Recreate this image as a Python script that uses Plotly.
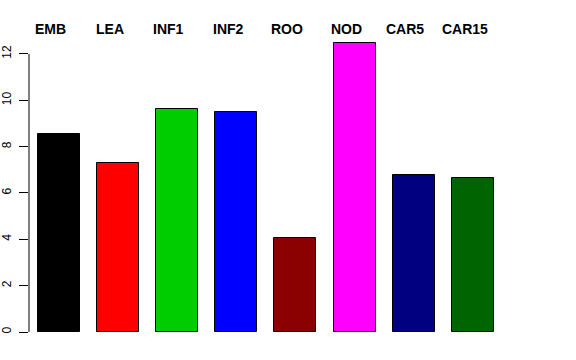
import plotly.graph_objects as go

categories = ["EMB", "LEA", "INF1", "INF2", "ROO", "NOD", "CAR5", "CAR15"]
values = [8.53, 7.30, 9.62, 9.49, 4.07, 12.48, 6.78, 6.65]
colors = ["#000000", "#FF0000", "#00CD00", "#0000FF", "#8B0000", "#FF00FF", "#000080", "#006400"]
y_ticks = [0, 2, 4, 6, 8, 10, 12]

positions = list(range(len(categories)))

fig = go.Figure()
fig.add_trace(go.Bar(
    x=positions, y=values, width=0.71,
    marker=dict(color=colors, line=dict(color="#000000", width=1)),
    showlegend=False, hoverinfo="skip",
))

for p, c in zip(positions, categories):
    fig.add_annotation(x=p - 0.14, y=1, xref="x", yref="paper", yshift=11,
                       text="<b>%s</b>" % c, showarrow=False,
                       xanchor="center", yanchor="middle",
                       font=dict(family="Liberation Sans, Arial, sans-serif", size=14, color="#000000"))

# R-style axis line spanning only first to last tick
fig.add_shape(type="line", xref="paper", yref="y", x0=0, x1=0,
              y0=y_ticks[0], y1=y_ticks[-1], line=dict(color="#000000", width=1))

fig.update_layout(
    width=576, height=360,
    margin=dict(l=29, r=31, t=40, b=28, pad=0),
    plot_bgcolor="white", paper_bgcolor="white",
    font=dict(family="Liberation Sans, Arial, sans-serif", size=12, color="#000000"),
    xaxis=dict(range=[-0.507, 8.22], showgrid=False, zeroline=False, showline=False,
               showticklabels=False, ticks="", automargin=False),
    yaxis=dict(range=[0, 12.6], tickvals=y_ticks, ticktext=[str(v) for v in y_ticks],
               showgrid=False, zeroline=False, showline=False, automargin=False,
               ticks="outside", ticklen=9, tickwidth=1, tickcolor="#000000",
               tickangle=-90, ticklabelstandoff=3,
               tickfont=dict(size=12, color="#000000")),
    bargap=0,
)

fig.write_html("out.html", config={"displayModeBar": False},
               post_script="document.body.style.margin='0';document.body.style.padding='0';document.body.style.overflow='hidden';")
